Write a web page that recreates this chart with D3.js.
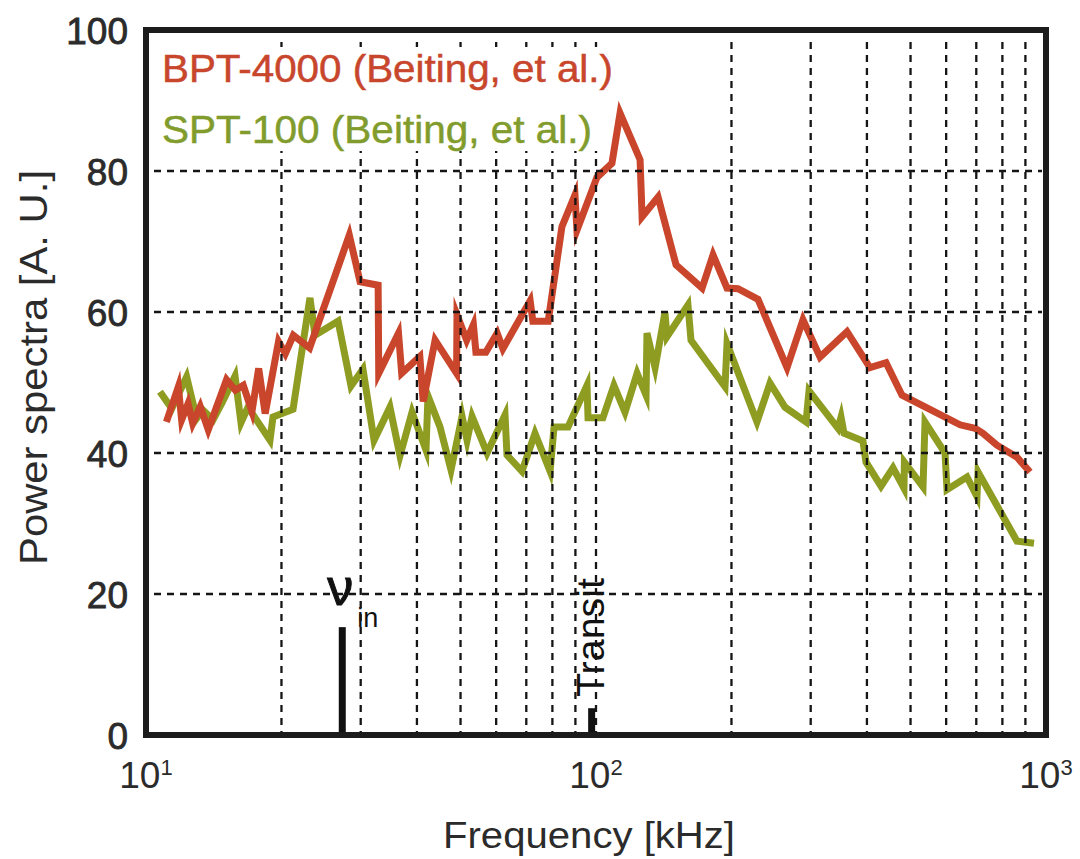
<!DOCTYPE html>
<html>
<head>
<meta charset="utf-8">
<script src="https://cdn.jsdelivr.net/npm/d3@7"></script>
<style>
  html, body { margin: 0; padding: 0; background: #ffffff; }
  svg { display: block; }
  text { font-family: "Liberation Sans", Arial, Helvetica, sans-serif; }
</style>
</head>
<body>
<svg id="chart" width="1080" height="859"></svg>
<script>
// BPT-4000 spectrum (frequency in kHz, power in A.U.)
const bptFreq = [11.1, 11.8, 12.0, 12.4, 12.7, 13.2, 13.75, 15.1, 15.8, 16.45, 17.2, 17.8, 18.4, 19.7, 20.4, 21.25, 23.1, 28.3, 29.9, 32.8, 32.9, 36.4, 37.0, 40.6, 41.3, 43.9, 49.0, 49.1, 51.6, 53.4, 54.1, 56.9, 60.3, 62.1, 71.4, 72.4, 78.3, 84.0, 89.8, 90.7, 100.5, 108.5, 113.1, 125.3, 126.6, 137.4, 150.6, 172.1, 182.0, 195.5, 206.8, 229.1, 265.8, 288.4, 314.7, 361.3, 406.3, 441.1, 478.6, 543.9, 644.1, 695.5, 724.4, 778.2, 862.1, 921.2];
const bptPower = [44.4, 49.4, 44.7, 47.0, 44.2, 46.6, 43.3, 50.4, 48.9, 49.6, 45.9, 52.0, 45.6, 55.8, 54.1, 56.7, 54.9, 70.9, 64.3, 63.8, 51.3, 57.0, 51.3, 53.7, 47.3, 56.0, 51.3, 59.6, 56.0, 58.2, 54.3, 54.3, 57.0, 54.8, 61.6, 58.7, 58.7, 72.1, 76.6, 71.6, 79.1, 81.1, 88.2, 81.6, 73.5, 76.3, 66.7, 63.4, 68.1, 63.4, 63.3, 61.8, 52.1, 58.9, 53.6, 57.2, 52.1, 52.8, 48.2, 46.4, 44.0, 43.5, 42.8, 41.1, 39.4, 37.3];

// SPT-100 spectrum
const sptFreq = [10.74, 11.41, 12.31, 12.96, 13.38, 14.09, 14.75, 15.77, 16.26, 16.85, 18.86, 19.15, 21.22, 23.14, 23.74, 26.72, 28.55, 30.35, 32.12, 34.84, 36.68, 39.01, 41.90, 42.33, 45.01, 47.62, 50.39, 51.70, 53.04, 57.27, 62.78, 63.42, 68.47, 73.18, 79.06, 80.69, 86.66, 95.5, 96.0, 103.6, 109.6, 116.0, 123.4, 129.2, 129.8, 135.3, 142.3, 143.8, 160.1, 162.6, 193.5, 195.5, 227.9, 243.6, 263.0, 292.9, 297.4, 345.0, 350.4, 355.8, 392.0, 398.1, 429.9, 457.1, 483.5, 484.5, 533.0, 538.4, 596.5, 602.6, 667.5, 702.5, 706.2, 862.1, 940.4];
const sptPower = [48.7, 46.3, 50.8, 44.9, 46.1, 44.7, 47.1, 50.9, 44.3, 46.5, 41.8, 45.1, 46.2, 62.0, 56.7, 58.7, 49.5, 51.9, 41.8, 46.5, 39.6, 45.8, 40.4, 48.1, 43.7, 37.6, 45.2, 41.8, 45.2, 40.0, 45.4, 39.7, 37.4, 42.8, 37.4, 43.7, 43.7, 49.6, 45.0, 45.0, 49.6, 45.8, 51.3, 48.2, 57.0, 52.1, 59.9, 56.5, 61.0, 56.0, 49.4, 55.5, 44.4, 49.9, 46.5, 44.4, 48.8, 43.5, 45.1, 42.8, 41.7, 38.7, 35.3, 37.9, 35.0, 38.7, 35.2, 44.4, 40.0, 34.8, 36.6, 33.8, 37.3, 27.5, 27.2];

// Characteristic frequency markers
const markerNames = ["nu_in", "Transit"];
const markerFreq = [27.3, 97.8];
const markerHeight = [15.3, 3.8];

// Axis ticks
const xMajorTicks = [10, 100, 1000];
const xTickExponents = ["1", "2", "3"];
const xGridTicks = [20, 30, 40, 50, 60, 70, 80, 90, 100, 200, 300, 400, 500, 600, 700, 800, 900];
const yTicks = [0, 20, 40, 60, 80, 100];
const yGridTicks = [20, 40, 60, 80];

const seriesNames = ["BPT-4000 (Beiting, et al.)", "SPT-100 (Beiting, et al.)"];
const seriesColors = ["#c9452b", "#8e9c22"];
const legendColors = ["#c8462c", "#819c2c"];

const svg = d3.select("#chart");
const x = d3.scaleLog().domain([10, 1000]).range([146, 1046]);
const y = d3.scaleLinear().domain([0, 100]).range([735, 30]);

const line = d3.line()
  .x(d => x(d[0]))
  .y(d => y(d[1]))
  .curve(d3.curveLinear);

const bpt = bptFreq.map((f, i) => [f, bptPower[i]]);
const spt = sptFreq.map((f, i) => [f, sptPower[i]]);

// Data curves
const curves = svg.append("g");
[spt, bpt].forEach((data, k) => {
  curves.append("path")
    .datum(data)
    .attr("d", line)
    .attr("fill", "none")
    .attr("stroke", k === 0 ? seriesColors[1] : seriesColors[0])
    .attr("stroke-width", 7)
    .attr("stroke-linejoin", "miter")
    .attr("stroke-miterlimit", 6);
});

// Marker bars
svg.append("g").selectAll("rect")
  .data(markerFreq)
  .join("rect")
  .attr("x", d => x(d) - 3.5)
  .attr("width", 7)
  .attr("y", (d, i) => y(markerHeight[i]))
  .attr("height", (d, i) => y(0) - y(markerHeight[i]))
  .attr("fill", "#111");

// Marker labels
const nuX = x(markerFreq[0]);
svg.append("text")
  .attr("x", nuX - 15)
  .attr("y", 605)
  .attr("font-family", "'Liberation Serif', 'DejaVu Serif', serif")
  .attr("font-size", 52)
  .attr("fill", "#111")
  .attr("stroke", "#111")
  .attr("stroke-width", 1)
  .text("\u03bd");
svg.append("text")
  .attr("x", nuX + 15)
  .attr("y", 627)
  .attr("font-size", 27)
  .attr("fill", "#111")
  .text("in");

const trX = x(markerFreq[1]);
svg.append("text")
  .attr("transform", `translate(${trX + 12},${697}) rotate(-90)`)
  .attr("font-size", 38)
  .attr("fill", "#111")
  .attr("textLength", 119)
  .attr("lengthAdjust", "spacingAndGlyphs")
  .text("Transit");

// Dashed grid
const grid = svg.append("g")
  .attr("stroke", "#151515")
  .attr("stroke-width", 2.3)
  .attr("stroke-dasharray", "7,6")
  .attr("fill", "none");
grid.selectAll("line.v")
  .data(xGridTicks)
  .join("line")
  .attr("class", "v")
  .attr("x1", d => x(d)).attr("x2", d => x(d))
  .attr("y1", y(100) + 12).attr("y2", y(0));
grid.selectAll("line.h")
  .data(yGridTicks)
  .join("line")
  .attr("class", "h")
  .attr("x1", x(10) + 8).attr("x2", x(1000) - 4)
  .attr("y1", d => y(d)).attr("y2", d => y(d));

// Legend
svg.append("rect")
  .attr("x", 153).attr("y", 47)
  .attr("width", 450).attr("height", 104)
  .attr("fill", "#fff");
const legend = svg.append("g");
legend.append("text")
  .attr("x", 162).attr("y", 82)
  .attr("font-size", 38)
  .attr("fill", legendColors[0])
  .attr("stroke", legendColors[0])
  .attr("stroke-width", 0.5)
  .attr("textLength", 451)
  .attr("lengthAdjust", "spacingAndGlyphs")
  .text(seriesNames[0]);
legend.append("text")
  .attr("x", 162).attr("y", 143)
  .attr("font-size", 38)
  .attr("fill", legendColors[1])
  .attr("stroke", legendColors[1])
  .attr("stroke-width", 0.5)
  .attr("textLength", 430)
  .attr("lengthAdjust", "spacingAndGlyphs")
  .text(seriesNames[1]);

// Y axis labels
const yAxis = d3.axisLeft(y).tickValues(yTicks).tickSize(0).tickPadding(0);
const yg = svg.append("g")
  .attr("transform", "translate(128,0)")
  .call(yAxis);
yg.select(".domain").remove();
yg.selectAll("text")
  .attr("font-family", "'Liberation Sans', Arial, sans-serif")
  .attr("font-size", 37)
  .attr("fill", "#2b2b2b")
  .attr("stroke", "#2b2b2b")
  .attr("stroke-width", 0.8)
  .attr("dy", "0.36em");

// X axis labels with powers of ten
const xl = svg.append("g");
xMajorTicks.forEach((t, i) => {
  const tx = xl.append("text")
    .attr("x", x(t))
    .attr("y", 788)
    .attr("text-anchor", "middle")
    .attr("font-size", 37)
    .attr("fill", "#2b2b2b");
  tx.append("tspan").text("10");
  tx.append("tspan").attr("dy", -13).attr("font-size", 22).text(xTickExponents[i]);
});

// Axis titles
svg.append("text")
  .attr("x", 443).attr("y", 848)
  .attr("font-size", 36)
  .attr("fill", "#2b2b2b")
  .attr("textLength", 292)
  .attr("lengthAdjust", "spacingAndGlyphs")
  .text("Frequency [kHz]");
svg.append("text")
  .attr("transform", "translate(47,565) rotate(-90)")
  .attr("font-size", 38)
  .attr("fill", "#2b2b2b")
  .attr("textLength", 395)
  .attr("lengthAdjust", "spacingAndGlyphs")
  .text("Power spectra [A. U.]");

// Plot frame
svg.append("rect")
  .attr("x", x(10)).attr("y", y(100))
  .attr("width", x(1000) - x(10))
  .attr("height", y(0) - y(100))
  .attr("fill", "none")
  .attr("stroke", "#1c1c1c")
  .attr("stroke-width", 6);
</script>
</body>
</html>
